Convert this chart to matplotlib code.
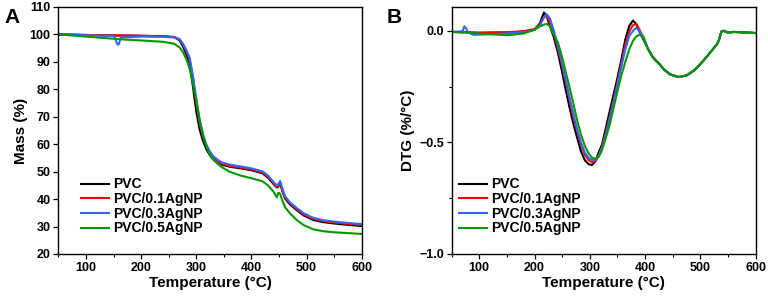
import matplotlib
matplotlib.use('Agg')
import matplotlib.pyplot as plt
from matplotlib.ticker import MultipleLocator

plt.rcParams['font.family'] = ['Liberation Sans', 'DejaVu Sans']
plt.rcParams['font.weight'] = 'bold'
plt.rcParams['axes.labelweight'] = 'bold'
plt.rcParams['axes.linewidth'] = 1.0
plt.rcParams['xtick.direction'] = 'out'
plt.rcParams['ytick.direction'] = 'out'
plt.rcParams['xtick.labelsize'] = 9
plt.rcParams['ytick.labelsize'] = 9

labels = ['PVC', 'PVC/0.1AgNP', 'PVC/0.3AgNP', 'PVC/0.5AgNP']
colors = ['#000000', '#ff0000', '#3366ff', '#009900']

# ---- panel A: TGA mass loss ----
temp_a = [50, 100, 150, 153, 156, 158, 160, 163, 200, 240, 260, 270, 276, 282, 288, 294,
          300, 306, 312, 318, 324, 330, 337, 345, 360, 380, 400, 420, 430, 440,
          446, 449, 452, 456, 461, 470, 482, 495, 512, 530, 550, 575, 600]

mass_pvc = [100, 99.8, 99.6, 99.6, 99.6, 99.6, 99.6, 99.6, 99.5, 99.3, 99.0, 97.8, 95.5, 92.8, 89.5, 81,
            72, 65.5, 61.3, 58.3, 56.2, 54.6, 53.5, 52.6, 51.8, 51.2, 50.5, 49.4, 47.8, 45.5,
            44.2, 44.5, 45.8, 43.0, 40.2, 38.0, 36.0, 34.0, 32.4, 31.6, 31.1, 30.6, 30.2]
mass_01 = [100, 99.8, 99.6, 99.6, 99.6, 99.6, 99.6, 99.6, 99.5, 99.3, 99.1, 98.2, 96.3, 93.8, 91, 84,
           75, 68, 63, 59.5, 57, 55.2, 54, 53, 52.1, 51.5, 50.8, 49.7, 48.2, 45.8,
           44.5, 44.8, 46.0, 43.4, 40.6, 38.4, 36.4, 34.4, 32.8, 32.0, 31.5, 31.0, 30.6]
mass_03 = [100, 99.7, 99.4, 98.6, 96.8, 96.2, 96.6, 98.8, 99.2, 99.1, 98.9, 98.2, 96.6, 94.3, 91.5, 85,
           76.5, 69, 63.8, 60, 57.6, 55.8, 54.6, 53.5, 52.6, 51.9, 51.2, 50.1, 48.6, 46.2,
           45.0, 45.6, 46.6, 44.0, 41.0, 38.8, 36.8, 34.8, 33.2, 32.3, 31.8, 31.3, 30.9]
mass_05 = [100, 99.2, 98.4, 98.38, 98.35, 98.33, 98.3, 98.2, 97.8, 97.3, 96.6, 95.2, 93.5, 91, 87.5, 82,
           76, 69, 63.5, 59.5, 56.5, 54.6, 53.2, 51.8, 50.0, 48.6, 47.6, 46.5, 45.0, 42.7,
           40.7, 42.3, 42.0, 39.5, 37.0, 34.8, 32.4, 30.5, 29.0, 28.3, 27.9, 27.6, 27.3]

# ---- panel B: DTG ----
temp_b = [50, 70, 73, 76, 80, 90, 100, 150, 180, 200, 210, 217, 222, 228,
          235, 242, 249, 256, 263, 270, 277, 284, 291, 298, 304, 310, 316, 322,
          329, 336, 343, 350, 357, 364, 371, 378, 384, 390, 397,
          405, 413, 418, 425, 435, 445, 460, 475, 490, 505, 520, 530, 533, 538,
          542, 550, 560, 580, 600]

dtg_tail = [-0.08, -0.115, -0.13, -0.147, -0.175, -0.195, -0.207, -0.2, -0.175, -0.135,
            -0.09, -0.06, -0.045, -0.003, 0.0, -0.008, -0.005, -0.007, -0.01]

dtg_pvc = [-0.005, -0.006, -0.006, -0.006, -0.007, -0.008, -0.009,
           -0.008, -0.003, 0.005, 0.035, 0.082, 0.065, 0.02,
           -0.03, -0.095, -0.174, -0.26, -0.34, -0.415, -0.478,
           -0.54, -0.58, -0.598, -0.601, -0.585, -0.545, -0.51,
           -0.435, -0.36, -0.285, -0.21, -0.13, -0.04, 0.02,
           0.046, 0.03, -0.005, -0.04] + dtg_tail
dtg_01 = [-0.005, -0.006, -0.006, -0.006, -0.007, -0.008, -0.008,
          -0.006, -0.002, 0.008, 0.03, 0.06, 0.071, 0.035,
          -0.01, -0.075, -0.145, -0.225, -0.305, -0.385, -0.45,
          -0.51, -0.555, -0.58, -0.588, -0.585, -0.56, -0.52,
          -0.455, -0.385, -0.31, -0.23, -0.15, -0.065, -0.005,
          0.025, 0.031, 0.005, -0.035] + dtg_tail
dtg_03 = [-0.005, -0.002, 0.02, 0.012, -0.008, -0.018, -0.017,
          -0.012, -0.006, 0.004, 0.025, 0.06, 0.075, 0.055,
          0.0, -0.065, -0.135, -0.215, -0.295, -0.37, -0.44,
          -0.5, -0.545, -0.57, -0.578, -0.577, -0.56, -0.525,
          -0.465, -0.395, -0.32, -0.24, -0.16, -0.085, -0.025,
          0.0, 0.013, 0.0, -0.035] + dtg_tail
dtg_05 = [-0.005, -0.007, -0.007, -0.008, -0.008, -0.01, -0.012,
          -0.02, -0.012, 0.005, 0.02, 0.028, 0.031, 0.02,
          -0.02, -0.05, -0.11, -0.18, -0.25, -0.323, -0.4,
          -0.465, -0.515, -0.55, -0.568, -0.573, -0.565, -0.535,
          -0.48, -0.42, -0.345, -0.27, -0.2, -0.14, -0.085,
          -0.045, -0.025, -0.018, -0.025] + dtg_tail

fig = plt.figure(figsize=(7.68, 3.02), dpi=100)
ax_a = fig.add_axes([0.076, 0.159, 0.395, 0.818])
ax_b = fig.add_axes([0.588, 0.159, 0.396, 0.818])

for ys, c, lab in zip([mass_pvc, mass_01, mass_03, mass_05], colors, labels):
    ax_a.plot(temp_a, ys, color=c, lw=1.5, label=lab)
for ys, c, lab in zip([dtg_pvc, dtg_01, dtg_03, dtg_05], colors, labels):
    ax_b.plot(temp_b, ys, color=c, lw=1.5, label=lab)

ax_a.set_xlim(50, 600)
ax_a.set_ylim(20, 110)
ax_a.yaxis.set_major_locator(MultipleLocator(10))
ax_a.set_ylabel('Mass (%)', fontsize=11, labelpad=1)

ax_b.set_xlim(50, 600)
ax_b.set_ylim(-1.0, 0.107)
ax_b.set_yticks([0.0, -0.5, -1.0])
ax_b.yaxis.set_minor_locator(MultipleLocator(0.25))
ax_b.set_ylabel('DTG (%/°C)', fontsize=11, labelpad=3)

for ax in (ax_a, ax_b):
    ax.xaxis.set_major_locator(MultipleLocator(100))
    ax.xaxis.set_minor_locator(MultipleLocator(50))
    ax.set_xlabel('Temperature (°C)', fontsize=11, labelpad=2)
    ax.tick_params(which='major', length=3.5, width=0.9, pad=2)
    ax.tick_params(which='minor', length=2, width=0.8)
    ax.tick_params(axis='y', which='both', right=False)
    ax.tick_params(axis='x', which='both', top=False)
    for lab in ax.get_xticklabels() + ax.get_yticklabels():
        lab.set_fontweight('bold')

ax_a.legend(loc='lower left', bbox_to_anchor=(0.075, 0.075), frameon=False, fontsize=10,
            handlelength=2.0, handletextpad=0.3, labelspacing=0.05, borderpad=0, borderaxespad=0)
ax_b.legend(loc='lower left', bbox_to_anchor=(0.025, 0.075), frameon=False, fontsize=10,
            handlelength=2.0, handletextpad=0.3, labelspacing=0.05, borderpad=0, borderaxespad=0)

fig.text(0.006, 0.975, 'A', fontsize=15, fontweight='bold', va='top')
fig.text(0.503, 0.975, 'B', fontsize=15, fontweight='bold', va='top')

fig.savefig('out.png', dpi=100)
